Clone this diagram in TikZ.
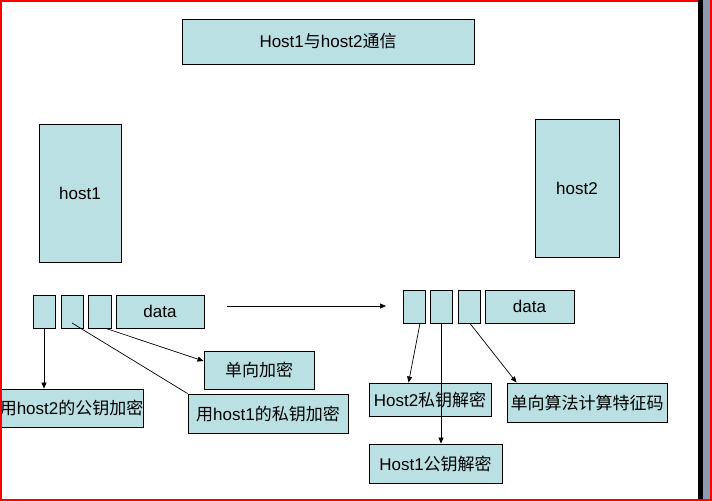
\documentclass[tikz,border=0pt]{standalone}
\usepackage{fontspec}
\setmainfont{Liberation Sans}
\newfontfamily\cjk{Noto Sans CJK SC}
\usetikzlibrary{arrows.meta,calc}
\definecolor{boxfill}{RGB}{187,224,227}
\definecolor{bargray}{RGB}{143,153,176}
\begin{document}
\begin{tikzpicture}[x=1pt,y=-1pt,
  box/.style={draw=black,line width=0.9pt,fill=boxfill,inner sep=0pt,font=\fontsize{17}{20}\selectfont},
  arr/.style={line width=0.7pt,-{Triangle[length=6pt,width=5pt]}},
  plain/.style={line width=0.7pt}]
\useasboundingbox (0,0) rectangle (712,501);
% frame
\fill[white] (0,0) rectangle (712,501);
% nodes
\node[box,minimum width=292,minimum height=45] (title) at (328,41.5) {Host1{\cjk 与}host2{\cjk 通信}};
\node[box,minimum width=82,minimum height=138] (host1) at (80,193) {host1};
\node[box,minimum width=84,minimum height=138] (host2) at (577,188) {host2};
\node[box,minimum width=22,minimum height=33] (L1) at (44,311.5) {};
\node[box,minimum width=22,minimum height=33] (L2) at (72,311.5) {};
\node[box,minimum width=23,minimum height=33] (L3) at (99.5,311.5) {};
\node[box,minimum width=88,minimum height=33] (Ldata) at (160,311.5) {data};
\node[box,minimum width=22,minimum height=33] (R1) at (414,306.5) {};
\node[box,minimum width=22,minimum height=33] (R2) at (441,306.5) {};
\node[box,minimum width=22,minimum height=33] (R3) at (469,306.5) {};
\node[box,minimum width=89,minimum height=33] (Rdata) at (529.5,306.5) {data};
\node[box,minimum width=110,minimum height=38] (enc1) at (259,370) {\cjk 单向加密};
\node[box,minimum width=150,minimum height=38,anchor=east] (enc2) at (144,408) {\hspace*{6pt}{\cjk 用}host2{\cjk 的公钥加密}};
\node[box,minimum width=160,minimum height=39] (enc3) at (268,413.5) {{\cjk 用}host1{\cjk 的私钥加密}};
\node[box,minimum width=122,minimum height=33] (dec1) at (430,399.5) {Host2{\cjk 私钥解密}};
\node[box,minimum width=160,minimum height=39] (dec2) at (587,402.5) {\cjk 单向算法计算特征码};
\node[box,minimum width=133,minimum height=39] (dec3) at (435.5,463.5) {Host1{\cjk 公钥解密}};
% connectors
\coordinate (sendA) at (227,306);
\coordinate (sendB) at (386,306);
\coordinate (l2s) at (72,323);
\draw[arr] (L1.south) -- (L1.south |- enc2.north);
\draw[plain] (l2s) -- (enc3.north west);
\draw[arr] ($(L3.south)+(6.5,0)$) -- ($(enc1.west)+(0,-9)$);
\draw[arr] (sendA) -- (sendB);
\draw[arr] ($(R1.south)+(6,0)$) -- ($(dec1.north west)+(40,0)$);
\draw[arr] (R2.south) -- (R2.south |- dec3.north);
\draw[arr] ($(R3.south)+(1,0)$) -- ($(dec2.north west)+(10,0)$);
% frame edges
\fill[red] (0,0) rectangle (1.6,501);
\fill[red] (0,0) rectangle (698,1.5);
\fill[red] (0,499.2) rectangle (712,501);
\fill[black] (698,0) rectangle (702.7,499.2);
\fill[bargray] (702.7,0) rectangle (710.4,499.2);
\fill[red] (710.4,0) rectangle (712,501);
\end{tikzpicture}
\end{document}
